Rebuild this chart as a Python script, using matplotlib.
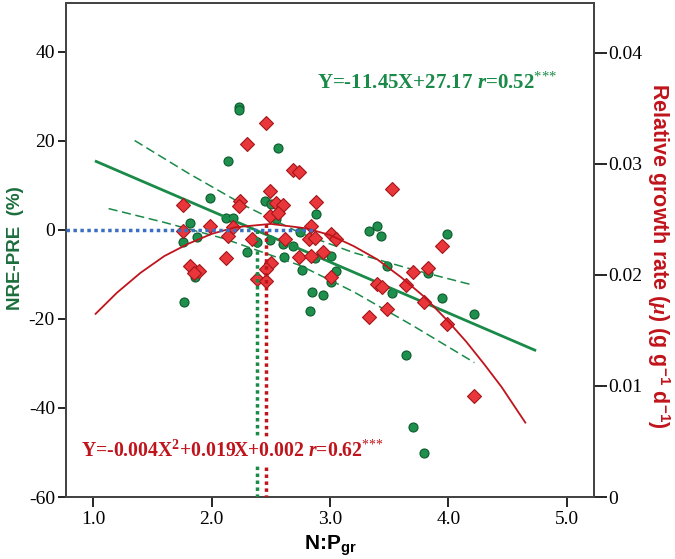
import numpy as np
import matplotlib.pyplot as plt

plt.rcParams['mathtext.fontset'] = 'custom'
plt.rcParams['mathtext.rm'] = 'Liberation Serif'
plt.rcParams['mathtext.it'] = 'Liberation Serif:italic:bold'
plt.rcParams['mathtext.bf'] = 'Liberation Serif:bold'
plt.rcParams['mathtext.sf'] = 'Liberation Sans:bold'
plt.rcParams['axes.unicode_minus'] = False

# NRE-PRE (%) against N:Pgr (green circles, left axis)
nre_np = [2.23, 2.23, 2.56, 2.14, 1.99, 2.45, 2.50, 2.12, 2.18, 2.54,
          1.82, 1.76, 1.88, 2.30, 2.38, 1.86, 1.77, 2.49, 2.61, 2.69,
          2.60, 2.88, 3.33, 3.40, 3.43, 3.99, 2.75, 3.01, 2.87, 3.48,
          3.83, 2.76, 3.05, 3.01, 2.85, 2.94, 2.83, 3.52, 3.95, 3.64,
          3.70, 3.79, 4.22]
nre_val = [27.6, 26.9, 18.5, 15.5, 7.1, 6.4, 5.8, 2.6, 2.8, 2.4,
           1.5, -2.8, -1.5, -5.0, -2.6, -10.5, -16.1, -2.2, -6.0, -3.6,
           -3.2, 3.6, -0.2, 1.0, -1.3, -0.8, -0.4, -5.9, -6.3, -8.1,
           -9.6, -9.1, -9.2, -11.6, -14.0, -14.6, -18.3, -14.1, -15.2, -28.0,
           -44.2, -50.1, -18.9]

# relative growth rate against N:Pgr (red diamonds, right axis)
rgr_np = [2.46, 2.30, 2.69, 2.74, 2.49, 2.24, 2.23, 1.76, 2.54, 2.60,
          2.49, 2.56, 1.76, 1.99, 2.14, 2.34, 2.62, 2.12, 1.82, 1.89,
          1.85, 2.50, 2.46, 2.38, 2.46, 2.74, 3.52, 2.88, 2.84, 3.01,
          3.05, 2.82, 2.87, 3.95, 2.94, 2.84, 3.70, 3.83, 3.01, 3.40,
          3.44, 3.64, 3.79, 3.33, 3.48, 3.99, 4.22, 2.18]
rgr_val = [0.0337, 0.0318, 0.0295, 0.0293, 0.0276, 0.0267, 0.0262, 0.0263, 0.0265, 0.0263,
           0.0253, 0.0256, 0.0240, 0.0244, 0.0235, 0.0232, 0.0232, 0.0215, 0.0208, 0.0204,
           0.0202, 0.0211, 0.0205, 0.0196, 0.0195, 0.0216, 0.0277, 0.0266, 0.0244, 0.0237,
           0.0232, 0.0232, 0.0233, 0.0226, 0.0221, 0.0217, 0.0203, 0.0206, 0.0198, 0.0192,
           0.0189, 0.0191, 0.0176, 0.0162, 0.0169, 0.0156, 0.0091, 0.0243]

# linear fit of NRE-PRE and its confidence band
fit_np = [1.025, 4.73]
fit_nre = [15.4, -27.0]
band_up_np = [1.35, 1.8, 2.3, 2.75, 3.2, 3.7, 4.21]
band_up = [20.1, 12.8, 5.2, -0.7, -5.1, -8.9, -12.4]
band_lo_np = [1.13, 1.6, 2.1, 2.75, 3.2, 3.7, 4.22]
band_lo = [4.8, 1.7, -1.9, -8.0, -13.9, -21.5, -29.8]

# quadratic fit of RGR
curve_np = [1.02, 1.2, 1.4, 1.6, 1.8, 2.0, 2.2, 2.5, 2.8, 3.0, 3.2, 3.4,
            3.6, 3.8, 4.0, 4.15, 4.3, 4.45, 4.65]
curve_rgr = [0.0165, 0.0184, 0.0202, 0.0217, 0.0228, 0.0237, 0.0243, 0.0246,
             0.0242, 0.0236, 0.0226, 0.0214, 0.0198, 0.0180, 0.0158, 0.0140,
             0.0120, 0.0099, 0.0067]

# thresholds
zero_line_end = 2.88
thr_nre = 2.38
thr_rgr = 2.46
thr_rgr_top = 0.0246

green = '#1a8a48'
red = '#c0141c'

fig = plt.figure(figsize=(6.75, 5.59), dpi=100)
ax = fig.add_axes([66 / 675, 62 / 559, 528 / 675, 494 / 559])
ax2 = ax.twinx()

ax.plot(nre_np, nre_val, 'o', ms=6.5, mfc='#1f8f4e', mec='#0b5a2c', mew=0.8)
ax.plot(fit_np, fit_nre, '-', color=green, lw=2.0)
ax.plot(band_up_np, band_up, '--', color=green, lw=1.1, dashes=(6, 3))
ax.plot(band_lo_np, band_lo, '--', color=green, lw=1.1, dashes=(6, 3))

ax2.plot(rgr_np, rgr_val, 'D', ms=7.5, mfc='#e8363a', mec='#a3161a', mew=0.8)
ax2.plot(curve_np, curve_rgr, '-', color=red, lw=1.3)

# reference lines
ax2.plot([0.77, zero_line_end], [0, 0], color='#3a6fc4', lw=2.5,
         ls=(0, (1, 1)), transform=ax.transData, zorder=4)
ax2.plot([thr_nre, thr_nre], [0, -60], color=green, lw=2.5,
         ls=(0, (1, 1)), transform=ax.transData, zorder=4)
ax2.plot([thr_rgr, thr_rgr], [thr_rgr_top, 0], color=red, lw=2.5,
         ls=(0, (1, 1)), zorder=4)

ax.set_xlim(0.77, 5.23)
ax.set_ylim(-60, 51)
ax2.set_ylim(0, 0.0445)

serif = {'family': 'Liberation Serif', 'size': 14}
ax.set_xticks([1, 2, 3, 4, 5])
ax.set_xticklabels(['1.0', '2.0', '3.0', '4.0', '5.0'], fontdict=serif)
ax.set_yticks([-60, -40, -20, 0, 20, 40])
ax.set_yticklabels(['-60', '-40', '-20', '0', '20', '40'], fontdict=serif)
ax2.set_yticks([0, 0.01, 0.02, 0.03, 0.04])
ax2.set_yticklabels(['0', '0.01', '0.02', '0.03', '0.04'], fontdict=serif)

ax.tick_params(axis='x', direction='out', length=7, width=1.2, pad=3, top=False)
ax.tick_params(axis='y', direction='out', length=6, width=1.2, pad=2)
ax2.tick_params(axis='y', direction='out', length=9, width=1.2, pad=1)

for a in (ax, ax2):
    for s in a.spines.values():
        s.set_color('#444444')
        s.set_linewidth(1.3)

ax.set_xlabel(r'N:P$_{\mathsf{gr}}$', family='Liberation Sans', weight='bold',
              size=15, labelpad=4)
ax.set_ylabel('NRE-PRE  (%)', family='Liberation Sans', weight='bold',
              size=13.5, color='#1b6e3c')
ax.yaxis.set_label_coords(-0.080, 0.504)
ax2.set_ylabel(r'Relative growth rate ($\mu$) (g g$^{\mathsf{-1}}$ d$^{\mathsf{-1}}$)',
               family='Liberation Sans', weight='bold', size=15.5, color=red,
               rotation=270)
ax2.yaxis.set_label_coords(1.147, 0.488)

ax2.text(0.475, 0.826, r'Y=-11.45X+27.17 $r$=0.52$^{\mathrm{{*}{*}{*}}}$',
         transform=ax.transAxes, family='Liberation Serif', weight='bold',
         size=15, color=green, ha='left', va='baseline')
ax2.text(0.028, 0.081,
         r'Y=-0.004X$^{\mathbf{2}}$+0.019X+0.002 $r$=0.62$^{\mathrm{{*}{*}{*}}}$',
         transform=ax.transAxes, family='Liberation Serif', weight='bold',
         size=14.2, color=red, ha='left', va='baseline', zorder=6,
         bbox=dict(facecolor='white', edgecolor='none', pad=2))

fig.savefig('out.png', dpi=100)
